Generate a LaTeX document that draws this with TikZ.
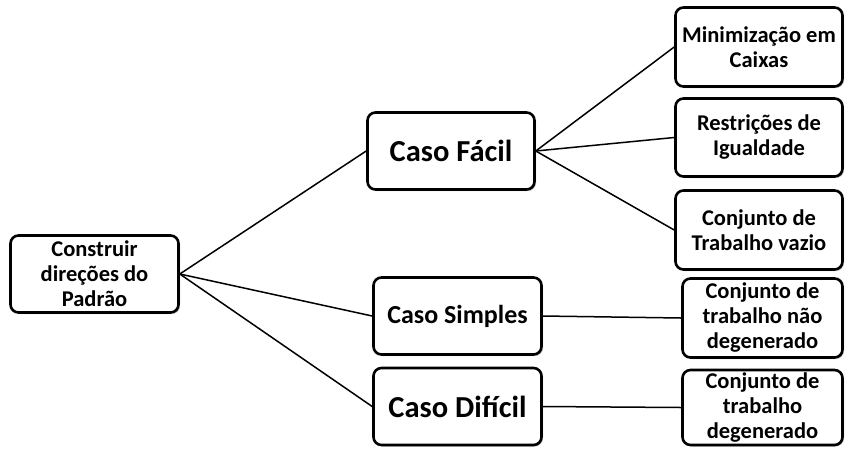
\documentclass[tikz,border=0pt]{standalone}
\usepackage{fontspec}
\setmainfont{Carlito}
\usetikzlibrary{shadows}
\begin{document}
\begin{tikzpicture}[x=1pt,y=-1pt,
  box/.style={draw=black, line width=2.6pt, rounded corners=8pt, fill=white,
    align=center, inner sep=2pt, font=\bfseries,
    drop shadow={shadow xshift=1.5pt, shadow yshift=-1.5pt, opacity=0.45}},
  small/.style={font=\fontsize{22.5}{25}\selectfont\bfseries},
  big/.style={font=\fontsize{30.5}{34}\selectfont\bfseries},
  mid/.style={font=\fontsize{26}{30}\selectfont\bfseries},
  link/.style={draw=black, line width=1.5pt}]
\useasboundingbox (0,0) rectangle (845,448);
\node[box, small, minimum width=168pt, minimum height=77pt] (root) at (94.5,274) {Construir\\direções do\\Padrão};
\node[box, big, minimum width=167pt, minimum height=77pt] (facil) at (451,151) {Caso Fácil};
\node[box, mid, minimum width=168pt, minimum height=77pt] (simples) at (457.5,316) {Caso Simples};
\node[box, big, minimum width=168pt, minimum height=77pt] (dificil) at (457.5,406.5) {Caso Difícil};
\node[box, small, minimum width=167pt, minimum height=79pt] (r1) at (759,47) {Minimização em\\Caixas};
\node[box, small, minimum width=167pt, minimum height=78pt] (r2) at (759,137.5) {Restrições de\\Igualdade};
\node[box, small, minimum width=167pt, minimum height=79pt] (r3) at (759,230) {Conjunto de\\Trabalho vazio};
\node[box, small, minimum width=160pt, minimum height=79pt] (r4) at (762.5,318) {Conjunto de\\trabalho não\\degenerado};
\node[box, small, minimum width=160pt, minimum height=75pt] (r5) at (762.5,407.5) {Conjunto de\\trabalho\\degenerado};
\draw[link] (root.east) -- (facil.west);
\draw[link] (root.east) -- (simples.west);
\draw[link] (root.east) -- (dificil.west);
\draw[link] (facil.east) -- (r1.west);
\draw[link] (facil.east) -- (r2.west);
\draw[link] (facil.east) -- (r3.west);
\draw[link] (simples.east) -- (r4.west);
\draw[link] (dificil.east) -- (r5.west);
\end{tikzpicture}
\end{document}
